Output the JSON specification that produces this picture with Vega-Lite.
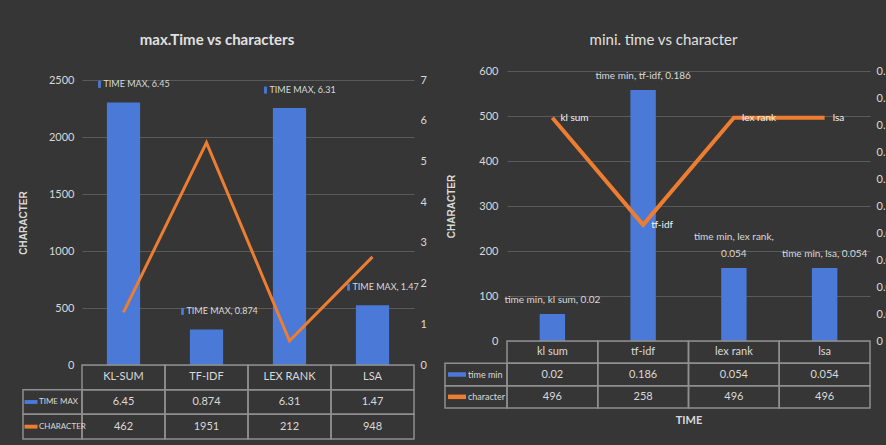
{
  "$schema": "https://vega.github.io/schema/vega-lite/v6.json",
  "background": "#363636",
  "padding": {"left": 18, "top": 33, "right": -8, "bottom": 5},
  "bounds": "flush",
  "spacing": 93,
  "config": {
    "view": {"stroke": null},
    "font": "Lato",
    "axis": {"labelColor": "#d9d9d9", "labelFontSize": 11, "labelFont": "Lato", "titleColor": "#d9d9d9", "domain": false, "ticks": false},
    "text": {"color": "#d9d9d9", "font": "Lato"},
    "title": {"font": "Lato"}
  },
  "datasets": {
    "left": [
      {"method": "KL-SUM", "time": 6.45, "character": 462, "label": "TIME MAX, 6.45"},
      {"method": "TF-IDF", "time": 0.874, "character": 1951, "label": "TIME MAX, 0.874"},
      {"method": "LEX RANK", "time": 6.31, "character": 212, "label": "TIME MAX, 6.31"},
      {"method": "LSA", "time": 1.47, "character": 948, "label": "TIME MAX, 1.47"}
    ],
    "leftSeries": [{"series": "TIME MAX"}, {"series": "CHARACTER"}],
    "right": [
      {"method": "kl sum", "time": 0.02, "character": 496, "label": "time min, kl sum, 0.02"},
      {"method": "tf-idf", "time": 0.186, "character": 258, "label": "time min, tf-idf, 0.186"},
      {"method": "lex rank", "time": 0.054, "character": 496, "label": "time min, lex rank,\n0.054"},
      {"method": "lsa", "time": 0.054, "character": 496, "label": "time min, lsa, 0.054"}
    ],
    "rightSeries": [{"series": "time min"}, {"series": "character"}]
  },
  "hconcat": [
    {
      "width": 332,
      "height": 294,
      "title": {"text": "max.Time vs characters", "fontSize": 15, "fontWeight": "bold", "color": "#e0e0e0", "frame": "group", "anchor": "middle", "dx": -31, "offset": 23},
      "data": {"name": "left"},
      "resolve": {"scale": {"x": "independent", "y": "independent", "color": "independent"}},
      "layer": [
        {
          "encoding": {
            "x": {"field": "method", "type": "nominal", "scale": {"type": "band", "domain": ["KL-SUM", "TF-IDF", "LEX RANK", "LSA"], "range": [0, 332], "paddingInner": 0.6, "paddingOuter": 0.3}, "axis": null},
            "y": {"field": "time", "type": "quantitative", "scale": {"domain": [0, 7], "range": [294, 9], "nice": false},
              "axis": {"orient": "right", "values": [0, 1, 2, 3, 4, 5, 6, 7], "grid": false, "labelPadding": 6, "title": null}}
          },
          "layer": [
            {"mark": {"type": "bar", "color": "#4a79d8"}},
            {"mark": {"type": "text", "fontSize": 9, "dy": -18, "dx": -20, "align": "left", "baseline": "middle"}, "encoding": {"text": {"field": "label"}}},
            {"mark": {"type": "point", "shape": "M-0.4,-1H0.4V1H-0.4Z", "filled": true, "opacity": 1, "color": "#4a79d8", "size": 49, "strokeWidth": 0, "yOffset": -18, "xOffset": -24}}
          ]
        },
        {
          "mark": {"type": "line", "color": "#ED7D31", "strokeWidth": 3},
          "encoding": {
            "x": {"field": "method", "type": "nominal", "scale": {"type": "point", "domain": ["KL-SUM", "TF-IDF", "LEX RANK", "LSA"], "range": [0, 332], "padding": 0.5}, "axis": null},
            "y": {"field": "character", "type": "quantitative", "scale": {"domain": [0, 2500], "range": [294, 9], "nice": false},
              "axis": {"orient": "left", "values": [0, 500, 1000, 1500, 2000, 2500], "format": "d", "grid": true, "gridColor": "#5a5a5a", "labelPadding": 8, "title": "CHARACTER", "titleFont": "Liberation Sans", "titleFontSize": 10, "titleFontWeight": "bold", "titlePadding": 20}}
          }
        },
        {
          "encoding": {
            "x": {"field": "method", "type": "nominal", "scale": {"type": "band", "domain": ["KL-SUM", "TF-IDF", "LEX RANK", "LSA"], "range": [0, 332], "paddingInner": 0, "paddingOuter": 0}, "axis": null}
          },
          "layer": [
            {"mark": {"type": "rect", "fill": "transparent", "stroke": "#8f8f8f", "strokeWidth": 1.5},
              "encoding": {"y": {"datum": "header", "type": "nominal", "scale": {"type": "band", "domain": ["header", "TIME MAX", "CHARACTER"], "range": [294, 368], "paddingInner": 0, "paddingOuter": 0}, "axis": null}}},
            {"mark": {"type": "rect", "fill": "transparent", "stroke": "#8f8f8f", "strokeWidth": 1.5},
              "encoding": {"y": {"datum": "TIME MAX", "type": "nominal", "scale": {"type": "band", "domain": ["header", "TIME MAX", "CHARACTER"], "range": [294, 368], "paddingInner": 0, "paddingOuter": 0}, "axis": null}}},
            {"mark": {"type": "rect", "fill": "transparent", "stroke": "#8f8f8f", "strokeWidth": 1.5},
              "encoding": {"y": {"datum": "CHARACTER", "type": "nominal", "scale": {"type": "band", "domain": ["header", "TIME MAX", "CHARACTER"], "range": [294, 368], "paddingInner": 0, "paddingOuter": 0}, "axis": null}}},
            {"mark": {"type": "text", "fontSize": 11},
              "encoding": {"y": {"datum": "header", "type": "nominal", "scale": {"type": "band", "domain": ["header", "TIME MAX", "CHARACTER"], "range": [294, 368], "paddingInner": 0, "paddingOuter": 0}, "axis": null}, "text": {"field": "method", "type": "nominal"}}},
            {"mark": {"type": "text", "fontSize": 11},
              "encoding": {"y": {"datum": "TIME MAX", "type": "nominal", "scale": {"type": "band", "domain": ["header", "TIME MAX", "CHARACTER"], "range": [294, 368], "paddingInner": 0, "paddingOuter": 0}, "axis": null}, "text": {"field": "time", "type": "nominal"}}},
            {"mark": {"type": "text", "fontSize": 11},
              "encoding": {"y": {"datum": "CHARACTER", "type": "nominal", "scale": {"type": "band", "domain": ["header", "TIME MAX", "CHARACTER"], "range": [294, 368], "paddingInner": 0, "paddingOuter": 0}, "axis": null}, "text": {"field": "character", "type": "nominal"}}}
          ]
        },
        {
          "data": {"name": "leftSeries"},
          "encoding": {
            "x": {"datum": "lbl", "type": "nominal", "scale": {"type": "band", "domain": ["lbl"], "range": [-59, 0], "paddingInner": 0, "paddingOuter": 0}, "axis": null},
            "y": {"field": "series", "type": "nominal", "scale": {"type": "band", "domain": ["header", "TIME MAX", "CHARACTER"], "range": [294, 368], "paddingInner": 0, "paddingOuter": 0}, "axis": null}
          },
          "layer": [
            {"mark": {"type": "rect", "fill": "transparent", "stroke": "#8f8f8f", "strokeWidth": 1.5}},
            {"mark": {"type": "point", "shape": "M-1,-0.3H1V0.3H-1Z", "filled": true, "opacity": 1, "size": 169, "strokeWidth": 0},
              "encoding": {
                "x": {"datum": "lbl", "type": "nominal", "bandPosition": 0.136, "scale": {"type": "band", "domain": ["lbl"], "range": [-59, 0], "paddingInner": 0, "paddingOuter": 0}, "axis": null},
                "color": {"field": "series", "type": "nominal", "scale": {"domain": ["TIME MAX", "CHARACTER"], "range": ["#4a79d8", "#ED7D31"]}, "legend": null}}},
            {"mark": {"type": "text", "align": "left", "fontSize": 8},
              "encoding": {
                "x": {"datum": "lbl", "type": "nominal", "bandPosition": 0.27, "scale": {"type": "band", "domain": ["lbl"], "range": [-59, 0], "paddingInner": 0, "paddingOuter": 0}, "axis": null},
                "text": {"field": "series", "type": "nominal"}}}
          ]
        }
      ]
    },
    {
      "width": 363,
      "height": 270,
      "title": {"text": "mini.  time vs character", "fontSize": 15, "fontWeight": "normal", "color": "#e0e0e0", "frame": "group", "anchor": "middle", "dx": -25, "offset": 17},
      "data": {"name": "right"},
      "resolve": {"scale": {"x": "independent", "y": "independent", "color": "independent"}},
      "layer": [
        {
          "encoding": {
            "x": {"field": "method", "type": "nominal", "scale": {"type": "band", "domain": ["kl sum", "tf-idf", "lex rank", "lsa"], "range": [0, 363], "paddingInner": 0.72, "paddingOuter": 0.36}, "axis": null},
            "y": {"field": "time", "type": "quantitative", "scale": {"domain": [0, 0.2], "range": [270, 0], "nice": false},
              "axis": {"orient": "right", "values": [0, 0.02, 0.04, 0.06, 0.08, 0.1, 0.12, 0.14, 0.16, 0.18, 0.2], "format": ".2~f", "grid": false, "labelPadding": 6, "title": null}}
          },
          "layer": [
            {"mark": {"type": "bar", "color": "#4a79d8"}},
            {"transform": [{"filter": "datum.method !== 'lex rank'"}],
              "mark": {"type": "text", "fontSize": 10, "dy": -9, "baseline": "bottom"}, "encoding": {"text": {"field": "label"}}},
            {"transform": [{"filter": "datum.method === 'lex rank'"}],
              "mark": {"type": "text", "fontSize": 10, "dy": -26, "baseline": "bottom", "lineBreak": "\n", "lineHeight": 17}, "encoding": {"text": {"field": "label"}}}
          ]
        },
        {
          "encoding": {
            "x": {"field": "method", "type": "nominal", "scale": {"type": "point", "domain": ["kl sum", "tf-idf", "lex rank", "lsa"], "range": [0, 363], "padding": 0.5}, "axis": null},
            "y": {"field": "character", "type": "quantitative", "scale": {"domain": [0, 600], "range": [270, 0], "nice": false},
              "axis": {"orient": "left", "values": [0, 100, 200, 300, 400, 500, 600], "grid": true, "gridColor": "#5a5a5a", "labelPadding": 9, "title": "CHARACTER", "titleFont": "Liberation Sans", "titleFontSize": 10, "titleFontWeight": "bold", "titlePadding": 22}}
          },
          "layer": [
            {"mark": {"type": "line", "color": "#ED7D31", "strokeWidth": 4}},
            {"mark": {"type": "text", "fontSize": 10, "align": "left", "dx": 8, "baseline": "middle", "color": "#f2f2f2"}, "encoding": {"text": {"field": "method"}}}
          ]
        },
        {
          "encoding": {
            "x": {"field": "method", "type": "nominal", "scale": {"type": "band", "domain": ["kl sum", "tf-idf", "lex rank", "lsa"], "range": [0, 363], "paddingInner": 0, "paddingOuter": 0},
              "axis": {"orient": "bottom", "labels": false, "grid": false, "title": "TIME", "titleFontSize": 11, "titleFontWeight": "bold", "titlePadding": 73}}
          },
          "layer": [
            {"mark": {"type": "rect", "fill": "transparent", "stroke": "#8f8f8f", "strokeWidth": 1.5},
              "encoding": {"y": {"datum": "header", "type": "nominal", "scale": {"type": "band", "domain": ["header", "time min", "character"], "range": [270, 337], "paddingInner": 0, "paddingOuter": 0}, "axis": null}}},
            {"mark": {"type": "rect", "fill": "transparent", "stroke": "#8f8f8f", "strokeWidth": 1.5},
              "encoding": {"y": {"datum": "time min", "type": "nominal", "scale": {"type": "band", "domain": ["header", "time min", "character"], "range": [270, 337], "paddingInner": 0, "paddingOuter": 0}, "axis": null}}},
            {"mark": {"type": "rect", "fill": "transparent", "stroke": "#8f8f8f", "strokeWidth": 1.5},
              "encoding": {"y": {"datum": "character", "type": "nominal", "scale": {"type": "band", "domain": ["header", "time min", "character"], "range": [270, 337], "paddingInner": 0, "paddingOuter": 0}, "axis": null}}},
            {"mark": {"type": "text", "fontSize": 11},
              "encoding": {"y": {"datum": "header", "type": "nominal", "scale": {"type": "band", "domain": ["header", "time min", "character"], "range": [270, 337], "paddingInner": 0, "paddingOuter": 0}, "axis": null}, "text": {"field": "method", "type": "nominal"}}},
            {"mark": {"type": "text", "fontSize": 11},
              "encoding": {"y": {"datum": "time min", "type": "nominal", "scale": {"type": "band", "domain": ["header", "time min", "character"], "range": [270, 337], "paddingInner": 0, "paddingOuter": 0}, "axis": null}, "text": {"field": "time", "type": "nominal"}}},
            {"mark": {"type": "text", "fontSize": 11},
              "encoding": {"y": {"datum": "character", "type": "nominal", "scale": {"type": "band", "domain": ["header", "time min", "character"], "range": [270, 337], "paddingInner": 0, "paddingOuter": 0}, "axis": null}, "text": {"field": "character", "type": "nominal"}}}
          ]
        },
        {
          "data": {"name": "rightSeries"},
          "encoding": {
            "x": {"datum": "lbl", "type": "nominal", "scale": {"type": "band", "domain": ["lbl"], "range": [-62, 0], "paddingInner": 0, "paddingOuter": 0}, "axis": null},
            "y": {"field": "series", "type": "nominal", "scale": {"type": "band", "domain": ["header", "time min", "character"], "range": [270, 337], "paddingInner": 0, "paddingOuter": 0}, "axis": null}
          },
          "layer": [
            {"mark": {"type": "rect", "fill": "transparent", "stroke": "#8f8f8f", "strokeWidth": 1.5}},
            {"mark": {"type": "point", "shape": "M-1,-0.25H1V0.25H-1Z", "filled": true, "opacity": 1, "size": 324, "strokeWidth": 0},
              "encoding": {
                "x": {"datum": "lbl", "type": "nominal", "bandPosition": 0.194, "scale": {"type": "band", "domain": ["lbl"], "range": [-62, 0], "paddingInner": 0, "paddingOuter": 0}, "axis": null},
                "color": {"field": "series", "type": "nominal", "scale": {"domain": ["time min", "character"], "range": ["#4a79d8", "#ED7D31"]}, "legend": null}}},
            {"mark": {"type": "text", "align": "left", "fontSize": 9},
              "encoding": {
                "x": {"datum": "lbl", "type": "nominal", "bandPosition": 0.37, "scale": {"type": "band", "domain": ["lbl"], "range": [-62, 0], "paddingInner": 0, "paddingOuter": 0}, "axis": null},
                "text": {"field": "series", "type": "nominal"}}}
          ]
        }
      ]
    }
  ]
}
